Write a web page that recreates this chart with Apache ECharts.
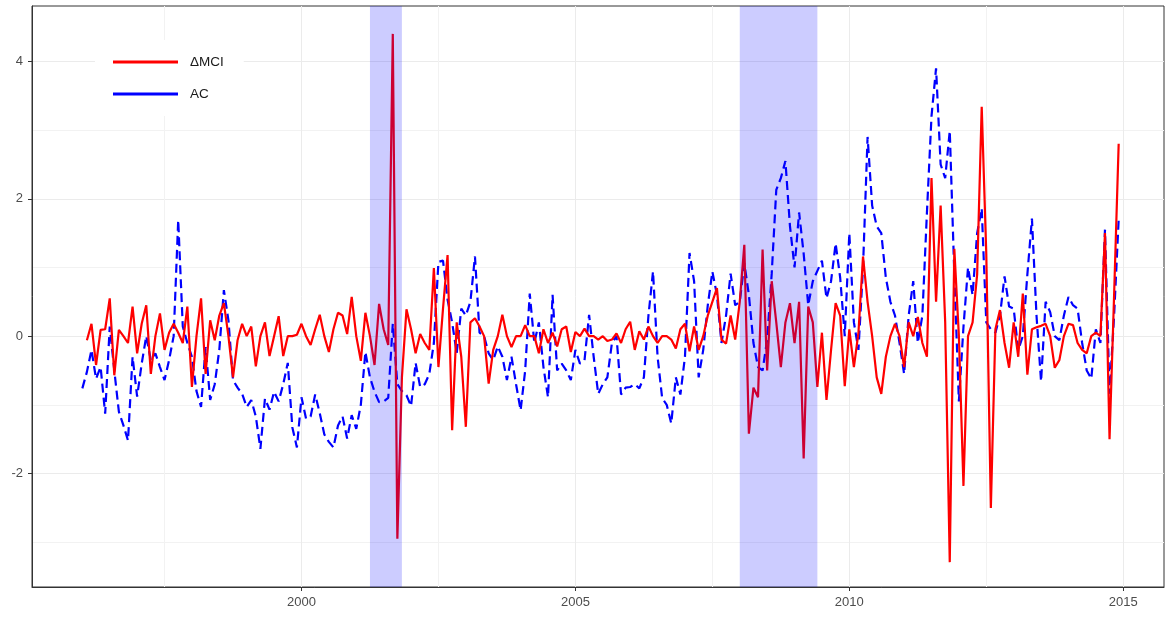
<!DOCTYPE html>
<html><head><meta charset="utf-8">
<script src="https://cdn.jsdelivr.net/npm/echarts@6/dist/echarts.min.js"></script>
<style>html,body{margin:0;padding:0;background:#fff}#c{width:1165px;height:619px}</style>
</head><body><div id="c"></div>
<script>
// Monthly observations, first month = January 1996
const startYear = 1996;
const seriesNames = ['ΔMCI', 'AC'];

const mciDelta = [
 null,-0.06,0.18,-0.42,0.09,0.1,0.55,-0.57,0.09,0.0,-0.1,0.43,
 -0.25,0.18,0.45,-0.55,0.0,0.33,-0.2,0.05,0.18,0.05,-0.1,0.43,
 -0.74,0.0,0.55,-0.55,0.23,-0.06,0.3,0.48,0.0,-0.6,-0.06,0.18,
 0.0,0.14,-0.44,0.0,0.2,-0.29,0.0,0.29,-0.29,0.0,0.0,0.02,
 0.18,0.0,-0.13,0.1,0.31,0.0,-0.23,0.1,0.34,0.3,0.03,0.57,
 0.0,-0.36,0.34,0.0,-0.42,0.47,0.1,-0.13,4.4,-2.95,-0.6,0.39,
 0.1,-0.25,0.03,-0.1,-0.2,0.99,-0.45,0.4,1.18,-1.37,0.2,-0.3,
 -1.32,0.2,0.26,0.14,0.0,-0.69,-0.2,0.0,0.31,0.0,-0.16,0.0,
 0.0,0.16,0.0,0.0,-0.25,0.1,-0.1,0.05,-0.15,0.1,0.14,-0.23,
 0.06,0.0,0.11,0.0,0.0,-0.05,0.0,-0.07,-0.05,0.04,-0.1,0.1,
 0.21,-0.2,0.07,-0.05,0.14,0.0,-0.1,0.0,0.0,-0.05,-0.18,0.1,
 0.18,-0.22,0.14,-0.2,0.0,0.3,0.5,0.7,-0.05,-0.11,0.3,-0.05,
 0.5,1.33,-1.42,-0.75,-0.89,1.26,-0.5,0.8,0.2,-0.45,0.2,0.48,
 -0.1,0.5,-1.78,0.43,0.2,-0.74,0.05,-0.93,-0.2,0.48,0.3,-0.73,
 0.1,-0.45,0.05,1.16,0.5,0.0,-0.6,-0.84,-0.3,0.0,0.18,0.0,
 -0.45,0.2,0.0,0.28,-0.1,-0.3,2.3,0.5,1.9,0.2,-3.29,1.27,
 0.0,-2.18,0.0,0.2,0.9,3.34,1.2,-2.5,0.1,0.38,-0.1,-0.46,
 0.2,-0.3,0.62,-0.56,0.1,0.13,0.15,0.18,0.0,-0.46,-0.35,0.0,
 0.18,0.16,-0.1,-0.2,-0.25,0.0,0.05,0.0,1.5,-1.5,0.6,2.8
];

const acIndex = [
 -0.76,-0.52,-0.2,-0.62,-0.45,-1.13,0.14,-0.5,-1.1,-1.3,-1.52,-0.3,
 -0.88,-0.4,0.0,-0.35,-0.25,-0.45,-0.64,-0.35,0.0,1.69,0.14,-0.1,
 -0.3,-0.8,-1.03,-0.16,-0.93,-0.7,-0.2,0.67,0.23,-0.64,-0.75,-0.84,
 -1.03,-0.93,-1.17,-1.64,-0.91,-1.07,-0.81,-0.95,-0.7,-0.39,-1.33,-1.62,
 -0.89,-1.2,-1.17,-0.85,-1.12,-1.43,-1.54,-1.62,-1.3,-1.17,-1.49,-1.15,
 -1.35,-1.0,-0.23,-0.6,-0.81,-0.96,-0.95,-0.9,0.18,-0.7,-0.8,-0.86,
 -1.02,-0.39,-0.74,-0.7,-0.55,-0.1,1.08,1.1,0.53,0.2,-0.25,0.4,
 0.3,0.5,1.16,0.05,0.0,-0.25,-0.35,-0.15,-0.3,-0.64,-0.3,-0.7,
 -1.08,-0.5,0.62,-0.1,0.2,-0.45,-0.89,0.6,-0.5,-0.4,-0.5,-0.64,
 -0.2,-0.4,-0.35,0.31,-0.3,-0.84,-0.7,-0.6,-0.1,0.0,-0.85,-0.75,
 -0.74,-0.7,-0.76,-0.6,0.3,0.94,-0.3,-0.9,-1.0,-1.27,-0.6,-0.85,
 -0.3,1.21,0.8,-0.6,-0.2,0.45,0.94,0.6,-0.1,0.3,0.91,0.45,
 0.5,1.06,0.6,-0.1,-0.45,-0.5,-0.05,0.91,2.13,2.3,2.55,1.6,
 1.0,1.8,1.2,0.45,0.8,0.95,1.1,0.55,0.8,1.35,0.85,0.0,
 1.5,0.2,-0.2,1.0,2.9,1.9,1.6,1.5,0.85,0.5,0.3,-0.1,
 -0.55,0.3,0.8,-0.1,0.3,1.8,3.2,3.9,2.5,2.3,2.99,0.9,
 -0.95,0.13,1.0,0.6,1.5,1.86,0.2,0.1,0.05,0.3,0.87,0.43,
 0.4,-0.2,0.0,0.9,1.71,0.3,-0.66,0.5,0.35,0.0,-0.06,0.3,
 0.57,0.45,0.4,-0.1,-0.5,-0.62,0.1,-0.1,1.55,-0.84,0.3,1.7
];

const xTicks = [2000, 2005, 2010, 2015];
const xMinorTicks = [1997.5, 2002.5, 2007.5, 2012.5];
const yTicks = [-2, 0, 2, 4];
const yMinorTicks = [-3, -1, 1, 3];
const recessions = [[2001.25, 2001.833], [2008.0, 2009.417]];

const X_MIN = 1995.081, X_MAX = 2015.744, Y_MIN = -3.652, Y_MAX = 4.806;
const FONT = '"Liberation Sans", Arial, sans-serif';

const monthT = i => startYear + i / 12;
const redData = mciDelta.map((v, i) => [monthT(i), v]);
const blueData = acIndex.map((v, i) => [monthT(i), v]);

const chart = echarts.init(document.getElementById('c'), null, {renderer: 'canvas'});
chart.setOption({
  animation: false,
  backgroundColor: '#fff',
  grid: {left: 32, right: 1, top: 6, bottom: 32, show: true, borderColor: '#333333', borderWidth: 1, backgroundColor: '#fff'},
  legend: {
    orient: 'vertical', left: 95, top: 40,
    backgroundColor: '#fff', padding: [14, 20, 14, 18],
    itemWidth: 65, itemHeight: 3, itemGap: 16, icon: 'rect',
    data: seriesNames,
    textStyle: {color: '#1a1a1a', fontSize: 13.5, lineHeight: 16, fontFamily: FONT, padding: [0, 0, 0, 7]}
  },
  xAxis: [
    {type: 'value', min: X_MIN, max: X_MAX,
     axisLine: {show: true, onZero: false, lineStyle: {color: '#333333', width: 1}},
     axisTick: {show: true, length: 4, customValues: xTicks, lineStyle: {color: '#333333'}},
     axisLabel: {customValues: xTicks, color: '#4d4d4d', fontSize: 13, fontFamily: FONT, margin: 9,
                 formatter: v => String(Math.round(v))},
     splitLine: {show: true, lineStyle: {color: '#ebebeb', width: 1}}},
    {type: 'value', min: X_MIN, max: X_MAX, position: 'top',
     axisLine: {show: false}, axisTick: {show: false, customValues: xMinorTicks},
     axisLabel: {show: false, customValues: xMinorTicks},
     splitLine: {show: true, lineStyle: {color: '#f2f2f2', width: 1}}}
  ],
  yAxis: [
    {type: 'value', min: Y_MIN, max: Y_MAX,
     axisLine: {show: true, onZero: false, lineStyle: {color: '#333333', width: 1}},
     axisTick: {show: true, length: 4, customValues: yTicks, lineStyle: {color: '#333333'}},
     axisLabel: {customValues: yTicks, color: '#4d4d4d', fontSize: 13, fontFamily: FONT, margin: 9},
     splitLine: {show: true, lineStyle: {color: '#ebebeb', width: 1}}},
    {type: 'value', min: Y_MIN, max: Y_MAX, position: 'right',
     axisLine: {show: false}, axisTick: {show: false, customValues: yMinorTicks},
     axisLabel: {show: false, customValues: yMinorTicks},
     splitLine: {show: true, lineStyle: {color: '#f2f2f2', width: 1}}}
  ],
  series: [
    {name: 'AC', type: 'line', data: blueData, showSymbol: false, symbol: 'none', z: 2,
     itemStyle: {color: '#0000ff'},
     lineStyle: {color: '#0000ff', width: 2.2, type: [9, 5]}},
    {name: 'ΔMCI', type: 'line', data: redData, showSymbol: false, symbol: 'none', z: 3,
     itemStyle: {color: '#ff0000'},
     lineStyle: {color: '#ff0000', width: 2.2}},
    {name: 'recession', type: 'custom', data: recessions, z: 10, silent: true,
     encode: {x: [0, 1]},
     renderItem: (params, api) => {
       const a = api.coord([api.value(0), Y_MAX]);
       const b = api.coord([api.value(1), Y_MIN]);
       return {type: 'rect', shape: {x: a[0], y: a[1], width: b[0] - a[0], height: b[1] - a[1]},
               style: {fill: 'rgba(0,0,255,0.2)'}};
     }}
  ]
});
</script>
</body></html>
